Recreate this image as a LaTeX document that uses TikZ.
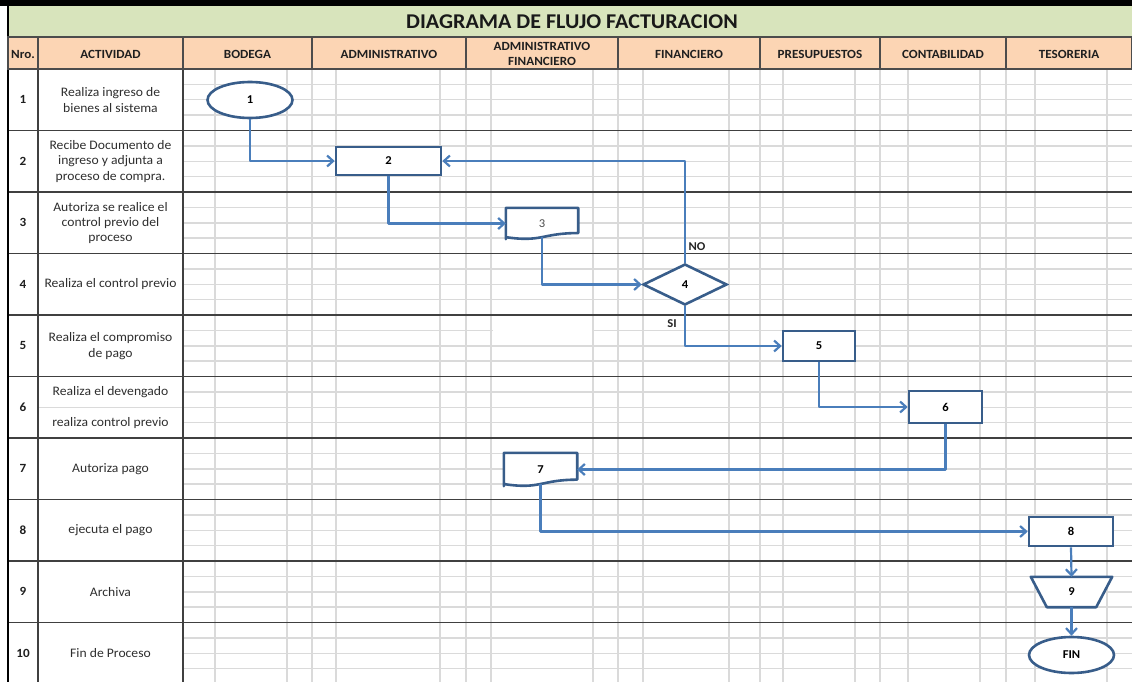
\documentclass[tikz,border=0pt]{standalone}
\usepackage{fontspec}
\setmainfont{Carlito}[FakeStretch=1.05]
\usetikzlibrary{shapes.geometric,arrows.meta,calc}
\definecolor{shapeblue}{HTML}{385D8A}
\definecolor{linkblue}{HTML}{4A7EBB}
\definecolor{titlegreen}{HTML}{D8E4BC}
\definecolor{headorange}{HTML}{FCD5B4}
\definecolor{gridgray}{HTML}{DADADA}
\definecolor{rulegray}{HTML}{404040}
\definecolor{textgray}{HTML}{2E2E2E}
\pgfdeclarelayer{back}
\pgfsetlayers{back,main}

\begin{document}
\begin{tikzpicture}[x=1pt,y=-1pt,
  titletext/.style={font=\fontsize{21}{24}\selectfont\bfseries, text=black!90},
  hdr/.style={font=\fontsize{12.5}{15.5}\selectfont\bfseries, align=center, text=black!88},
  act/.style={font=\fontsize{13}{15.3}\selectfont, align=center, text=textgray},
  nro/.style={font=\fontsize{12.5}{14}\selectfont\bfseries, text=black!88},
  grid/.style={draw=gridgray, line width=1.5pt},
  rowrule/.style={draw=rulegray, line width=1.8pt},
  hdrrule/.style={draw=black!70, line width=1.5pt},
  shp/.style={draw=shapeblue, line width=2.6pt, fill=white, inner sep=0pt,
    font=\fontsize{12}{13}\selectfont\bfseries},
  shptext/.style={inner sep=0pt, font=\fontsize{12}{13}\selectfont\bfseries},
  outline/.style={draw=shapeblue, line width=2.6pt, fill=white, line join=round},
  link/.style={draw=linkblue, line width=2.2pt, line join=round,
    -{Straight Barb[length=6pt,width=11pt]}},
  lbl/.style={font=\fontsize{12}{13}\selectfont\bfseries, text=black!85}
]
\useasboundingbox (0,0) rectangle (1132,682);
\clip (0,0) rectangle (1132,682);

\begin{pgfonlayer}{back}
  % top frame bar, title band and header band
  \fill[black] (0,0) rectangle (1132,6);
  \fill[titlegreen] (8,6) rectangle (1132,37);
  \fill[headorange] (8,37) rectangle (1132,69);

  % light spreadsheet grid in the lanes
  \foreach \r in {0,...,9}
    \foreach \k in {1,2,3}
      \draw[grid] (183,{69+61.5*\r+15.375*\k}) -- (1132,{69+61.5*\r+15.375*\k});
  \draw[white, line width=2pt] (492.5,330.375) -- (592.5,330.375);
  \foreach \x in {215,287,312,336,440,466,491,593,618,643,729,760,783,855,880,908,980,1006,1035,1107}
    \draw[grid] (\x,69) -- (\x,682);
  \draw[grid] (38,407.25) -- (183,407.25);

  % row separators and left columns
  \foreach \r in {1,...,10}
    \draw[rowrule] (8,{69+61.5*\r}) -- (1132,{69+61.5*\r});
  \draw[rowrule] (38,69) -- (38,682);
  \draw[rowrule] (183,69) -- (183,682);
  \draw[black, line width=1.8pt] (8,6) -- (8,682);
\end{pgfonlayer}

% title
\node[titletext] (title) at (572,21.5) {DIAGRAMA DE FLUJO FACTURACION};

% header cells
\foreach \xa/\xb/\t [count=\i] in {8/38/Nro., 38/183/ACTIVIDAD, 183/312/BODEGA,
    312/466/ADMINISTRATIVO, 466/618/{ADMINISTRATIVO\\FINANCIERO}, 618/760/FINANCIERO,
    760/880/PRESUPUESTOS, 880/1006/CONTABILIDAD, 1006/1132/TESORERIA} {
  \draw[hdrrule] (\xa,37) rectangle (\xb,69);
  \node[hdr] (h\i) at ({(\xa+\xb)/2},54) {\t};
}

% row numbers
\foreach \i in {1,...,10}
  \node[nro] (n\i) at (23,{69+61.5*(\i-0.5)}) {\i};

% activities
\node[act] (a1) at (110.5,100) {Realiza ingreso de\\bienes al sistema};
\node[act] (a2) at (110.5,161.5) {Recibe Documento de\\ingreso y adjunta a\\proceso de compra.};
\node[act] (a3) at (110.5,223) {Autoriza se realice el\\control previo del\\proceso};
\node[act] (a4) at (110.5,284.5) {Realiza el control previo};
\node[act] (a5) at (110.5,346) {Realiza el compromiso\\de pago};
\node[act] (a6a) at (110.5,392) {Realiza el devengado};
\node[act] (a6b) at (110.5,422.8) {realiza control previo};
\node[act] (a7) at (110.5,469) {Autoriza pago};
\node[act] (a8) at (110.5,530.5) {ejecuta el pago};
\node[act] (a9) at (110.5,592) {Archiva};
\node[act] (a10) at (110.5,653.5) {Fin de Proceso};

% flow shapes
\node[shp, ellipse, minimum width=85pt, minimum height=36pt] (s1) at (250,100) {1};
\node[shp, minimum width=105pt, minimum height=28pt] (s2) at (388.5,161) {2};
\node[shptext, font=\fontsize{12}{13}\selectfont, text=black!70,
  minimum width=72pt, minimum height=31pt] (s3) at (542,223.5) {3};
\node[shp, diamond, minimum width=84pt, minimum height=41pt] (s4) at (685,284.5) {4};
\node[shp, minimum width=72pt, minimum height=30pt] (s5) at (819,346) {5};
\node[shp, minimum width=73pt, minimum height=32pt] (s6) at (945.5,407) {6};
\node[shptext, minimum width=73pt, minimum height=33pt] (s7) at (540.5,469.5) {7};
\node[shp, minimum width=84pt, minimum height=29pt] (s8) at (1071,531.5) {8};
\node[shptext, minimum width=81pt, minimum height=30pt] (s9) at (1071.5,592) {9};
\node[shp, ellipse, minimum width=85pt, minimum height=36pt] (fin) at (1071.5,655) {FIN};

% document and manual-operation outlines, under their labels
\begin{pgfonlayer}{back}
  \draw[outline] (s3.south west) -- (s3.north west) -- (s3.north east)
    -- ([yshift=6.14pt]s3.south east)
    .. controls ([yshift=6.14pt]s3.south) and ([yshift=-3.35pt]s3.south)
    .. ([yshift=2.05pt]s3.south west) -- cycle;
  \draw[outline] (s7.south west) -- (s7.north west) -- (s7.north east)
    -- ([yshift=6.53pt]s7.south east)
    .. controls ([yshift=6.53pt]s7.south) and ([yshift=-3.56pt]s7.south)
    .. ([yshift=2.18pt]s7.south west) -- cycle;
  \draw[outline] (s9.north west) -- (s9.north east)
    -- ([xshift=-16pt]s9.south east) -- ([xshift=16pt]s9.south west) -- cycle;
\end{pgfonlayer}

% connectors
\draw[link] (s1.south) |- (s2.west);
\draw[link] (s2.south) |- (s3.west);
\draw[link] ([yshift=2pt]s3.south) |- (s4.west);
\draw[link] (s4.north) |- (s2.east);
\draw[link] (s4.south) |- (s5.west);
\draw[link] (s5.south) |- (s6.west);
\draw[link] (s6.south) |- (s7.east);
\draw[link] ([yshift=2.2pt]s7.south) |- (s8.west);
\draw[link] (s8.south) -- (s9.north);
\draw[link] (s9.south) -- (fin.north);

% decision labels
\node[lbl] (no) at (697,247) {NO};
\node[lbl] (si) at (672,324) {SI};
\end{tikzpicture}
\end{document}
